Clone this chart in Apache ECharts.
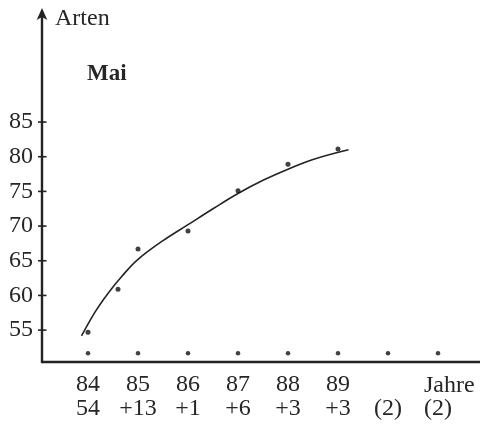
<!DOCTYPE html>
<html>
<head>
<meta charset="utf-8">
<script src="https://cdn.jsdelivr.net/npm/echarts@6/dist/echarts.min.js"></script>
<style>
  html, body { margin: 0; padding: 0; background: #ffffff; }
  #chart { width: 480px; height: 427px; }
</style>
</head>
<body>
<div id="chart"></div>
<script>
// Years on the x axis and the number of new species added in each year
const yearPositions = [84, 85, 86, 87, 88, 89, 90, 91];
const yearLabels = ['84', '85', '86', '87', '88', '89', '', ''];
const increments = ['54', '+13', '+1', '+6', '+3', '+3', '(2)', '(2)'];

// Species count tick values
const speciesTicks = [55, 60, 65, 70, 75, 80, 85];

// Observed cumulative species counts (May)
const observedYears = [84, 84.6, 85, 86, 87, 88, 89];
const observedCounts = [54.7, 60.9, 66.7, 69.3, 75.1, 78.9, 81.1];

// Row of year markers just above the time axis
const markerLevel = [51.65, 51.65, 51.65, 51.65, 51.65, 51.65, 51.65, 51.65];

// Hand-drawn trend curve through the counts
const curveYears = [83.87, 84.14, 84.41, 84.67, 85.0, 85.5, 86.0, 86.5, 87.0, 87.5, 88.0, 88.5, 89.21];
const curveCounts = [54.15, 57.6, 60.4, 62.7, 65.2, 67.9, 70.2, 72.5, 74.7, 76.6, 78.2, 79.6, 81.0];

const X_MIN = 83.08, X_MAX = 91.84;
const Y_MIN = 50.4, Y_MAX = 100.87;

const ink = '#232323';
const textInk = '#262626';
const serif = '"Liberation Serif", "DejaVu Serif", serif';

const zip = (xs, ys) => xs.map((x, i) => [x, ys[i]]);

const chart = echarts.init(document.getElementById('chart'), null, { renderer: 'canvas' });

chart.setOption({
  animation: false,
  backgroundColor: '#ffffff',
  grid: { left: 42, right: 0, top: 12, bottom: 65, containLabel: false },
  xAxis: {
    type: 'value',
    min: X_MIN,
    max: X_MAX,
    splitLine: { show: false },
    axisLine: { show: true, lineStyle: { color: ink, width: 2.4 } },
    axisTick: { show: false },
    axisLabel: {
      customValues: yearPositions,
      margin: 11,
      color: textInk,
      fontFamily: serif,
      fontSize: 24,
      lineHeight: 24,
      formatter: function (v) {
        const i = yearPositions.indexOf(Math.round(v));
        if (i < 0) return '';
        return (yearLabels[i] || ' ') + '\n' + increments[i];
      }
    }
  },
  yAxis: {
    type: 'value',
    min: Y_MIN,
    max: Y_MAX,
    splitLine: { show: false },
    axisLine: {
      show: true,
      symbol: ['none', 'arrow'],
      symbolSize: [8, 12],
      symbolOffset: [0, 4],
      lineStyle: { color: ink, width: 2.4 }
    },
    axisTick: { show: false },
    axisLabel: {
      customValues: speciesTicks,
      margin: 9,
      color: textInk,
      fontFamily: serif,
      fontSize: 24
    }
  },
  series: [
    {
      // tick marks crossing the species axis
      type: 'custom',
      clip: false,
      silent: true,
      data: speciesTicks.map(v => [X_MIN, v]),
      renderItem: function (params, api) {
        const p = api.coord([api.value(0), api.value(1)]);
        return {
          type: 'line',
          shape: { x1: p[0] - 4, y1: p[1], x2: p[0] + 4.5, y2: p[1] },
          style: { stroke: ink, lineWidth: 1.6 }
        };
      },
      z: 4
    },
    {
      type: 'line',
      data: zip(curveYears, curveCounts),
      smooth: 0.4,
      showSymbol: false,
      lineStyle: { color: ink, width: 1.6 },
      z: 2
    },
    {
      type: 'scatter',
      data: zip(observedYears, observedCounts),
      symbolSize: 5,
      itemStyle: { color: '#111111' },
      z: 3
    },
    {
      type: 'scatter',
      data: zip(yearPositions, markerLevel),
      symbolSize: 4.5,
      itemStyle: { color: '#111111' },
      z: 3
    }
  ],
  graphic: [
    {
      type: 'text',
      left: 55, top: 7,
      style: { text: 'Arten', font: '24px ' + serif, fill: textInk }
    },
    {
      type: 'text',
      left: 87, top: 63,
      style: { text: 'Mai', font: 'bold 23px ' + serif, fill: textInk }
    },
    {
      type: 'text',
      left: 424, top: 374,
      style: { text: 'Jahre', font: '24px ' + serif, fill: textInk }
    }
  ]
});
</script>
</body>
</html>
